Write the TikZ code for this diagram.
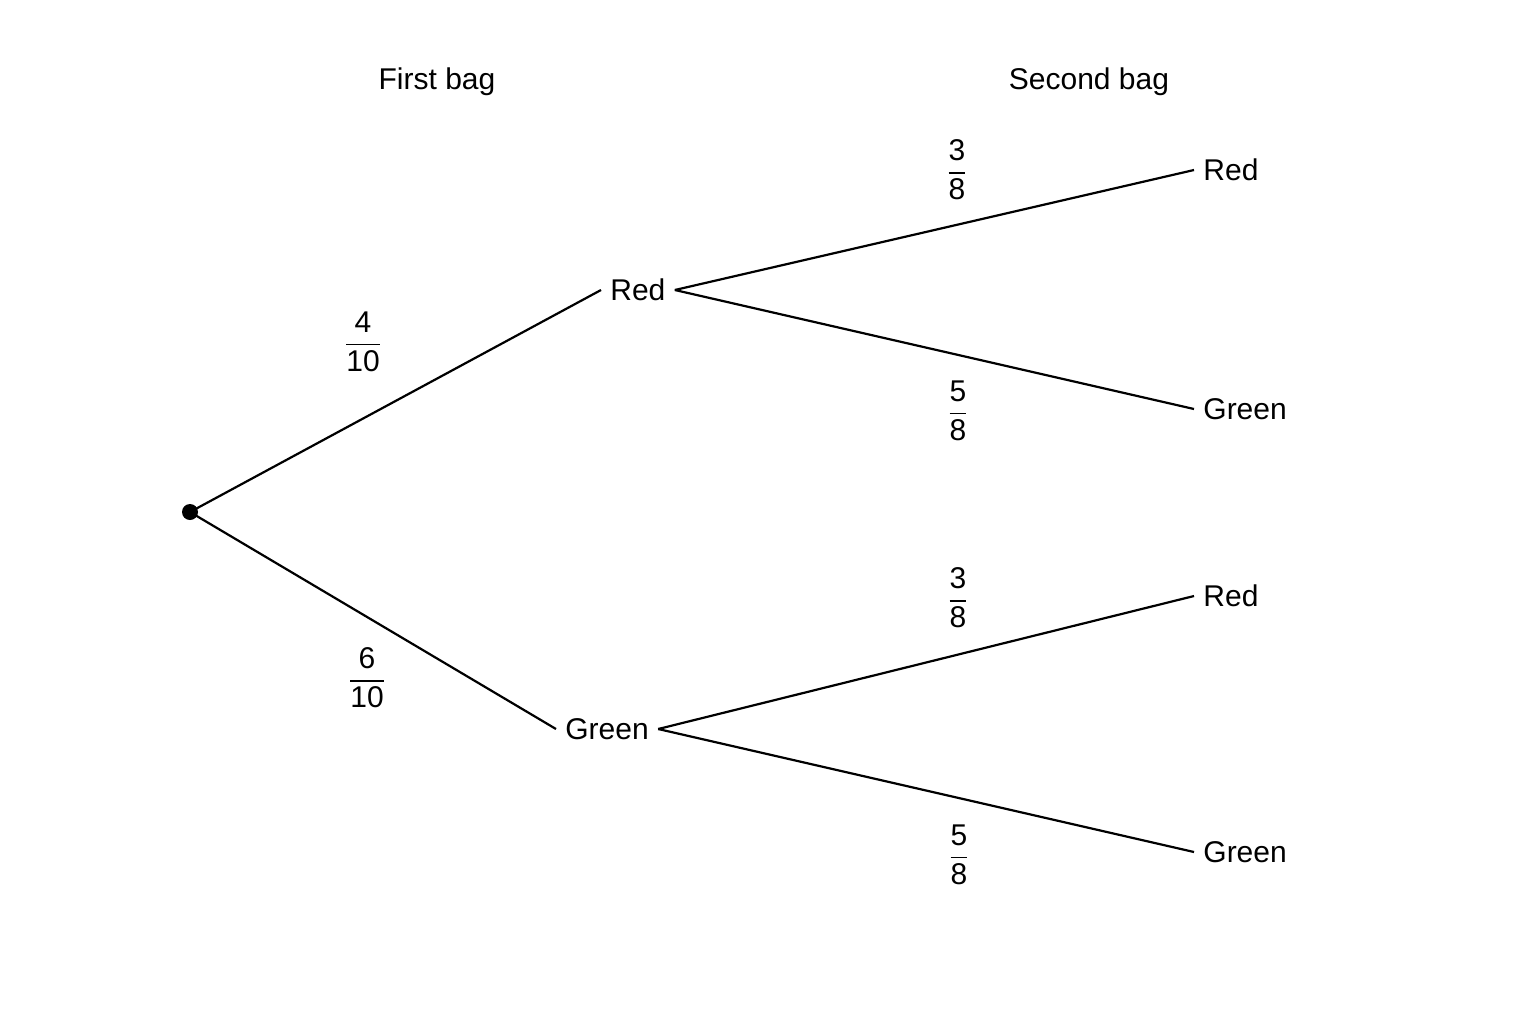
\documentclass[tikz,border=0pt]{standalone}
\usepackage{fontspec}
\usepackage{amsmath}
\setmainfont{Liberation Sans}
\begin{document}
\begin{tikzpicture}[x=0.5pt,y=-0.5pt,
  lbl/.style={font=\fontsize{15}{18}\selectfont,inner sep=4.5pt},
  frac/.style={font=\fontsize{15}{18}\selectfont,inner sep=0pt},
  br/.style={line width=1.1pt}]
\useasboundingbox (0,0) rectangle (1536,1024);
\fill[white] (0,0) rectangle (1536,1024);
\node[lbl] (h1) at (437,82) {First bag};
\node[lbl] (h2) at (1089,82) {Second bag};
\node[circle,fill=black,inner sep=0pt,minimum size=8pt] (o) at (190,512) {};
\node[lbl,anchor=west] (r) at (601,290) {Red};
\node[lbl,anchor=west] (g) at (556,729) {Green};
\node[lbl,anchor=west] (rr) at (1194,170) {Red};
\node[lbl,anchor=west] (rg) at (1194,409) {Green};
\node[lbl,anchor=west] (gr) at (1194,596) {Red};
\node[lbl,anchor=west] (gg) at (1194,852) {Green};
\draw[br] (o.center) -- (r.west);
\draw[br] (o.center) -- (g.west);
\draw[br] (r.east) -- (rr.west);
\draw[br] (r.east) -- (rg.west);
\draw[br] (g.east) -- (gr.west);
\draw[br] (g.east) -- (gg.west);
\node[frac] (f1) at (363,342) {$\dfrac{\text{4}}{\text{10}}$};
\node[frac] (f2) at (367,678) {$\dfrac{\text{6}}{\text{10}}$};
\node[frac] (f3) at (957,170) {$\dfrac{\text{3}}{\text{8}}$};
\node[frac] (f4) at (958,411) {$\dfrac{\text{5}}{\text{8}}$};
\node[frac] (f5) at (958,598) {$\dfrac{\text{3}}{\text{8}}$};
\node[frac] (f6) at (959,855) {$\dfrac{\text{5}}{\text{8}}$};
\end{tikzpicture}
\end{document}
